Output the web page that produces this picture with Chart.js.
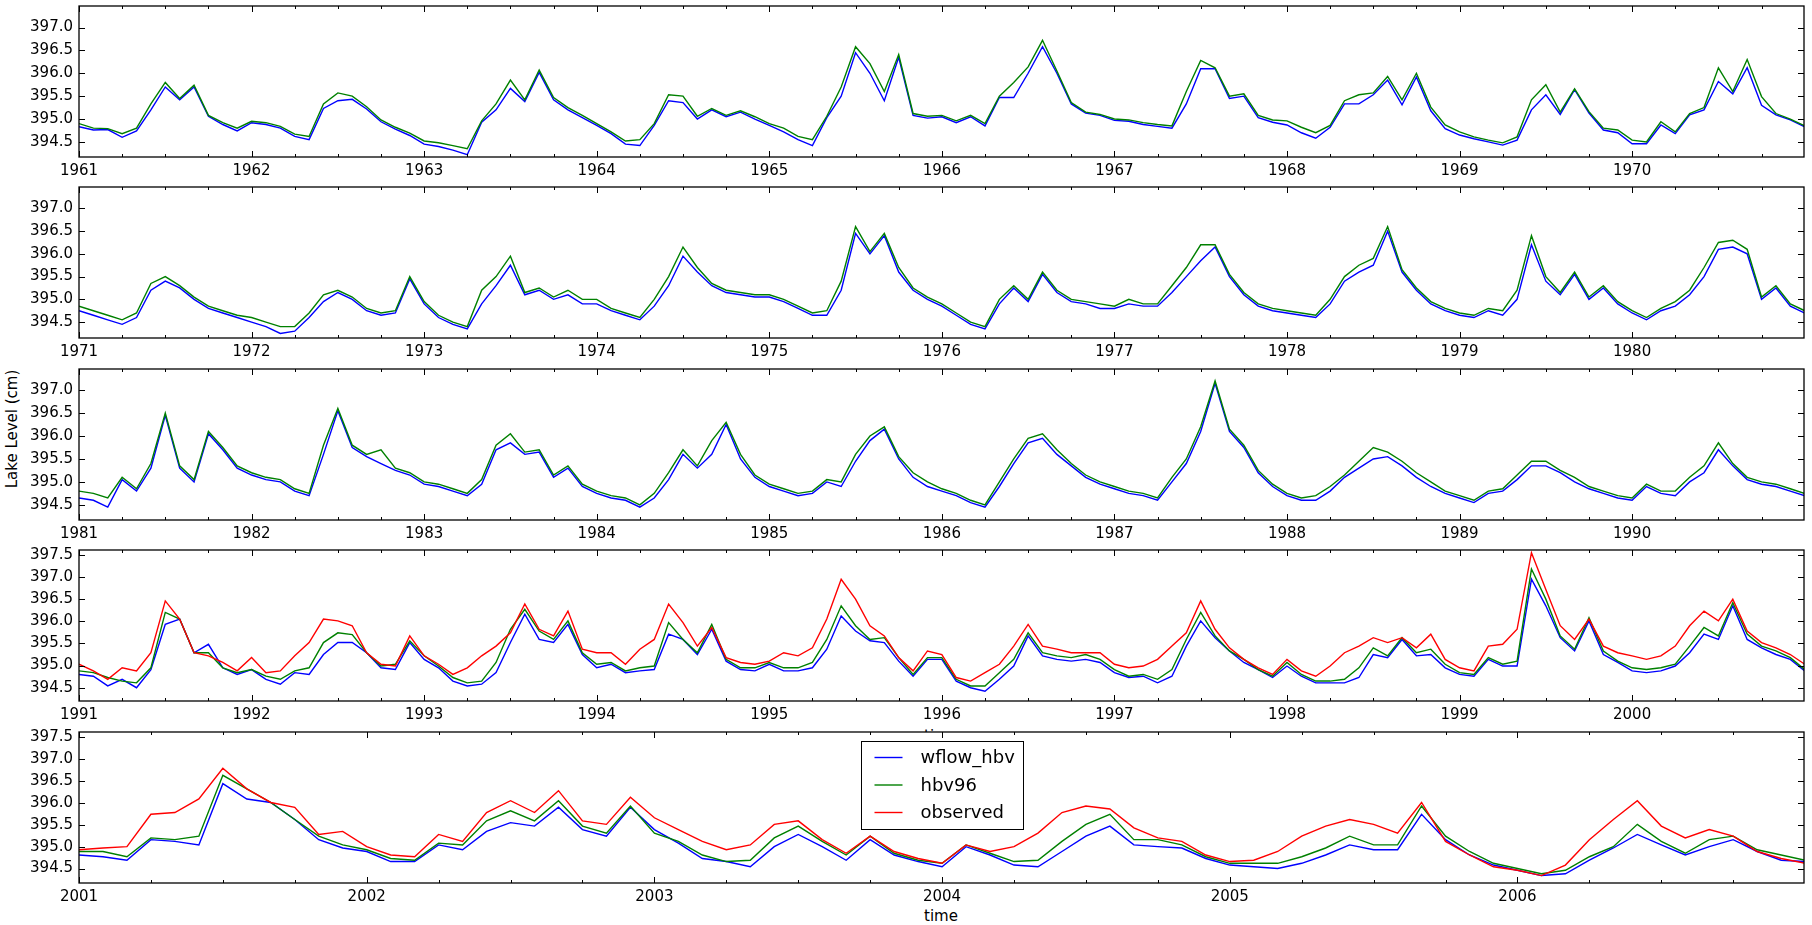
<!DOCTYPE html>
<html>
<head>
<meta charset="utf-8">
<script src="https://cdn.jsdelivr.net/npm/chart.js@4.4.1/dist/chart.umd.min.js"></script>
<style>
  body { margin: 0; background: #fff; }
  #wrap { position: relative; width: 1812px; height: 925px; overflow: hidden; background: #fff; font-family: "DejaVu Sans", sans-serif; }
  canvas { position: absolute; left: 0; }
  .lbl { position: absolute; font-size: 15px; color: #000; white-space: nowrap; }
  #ylabel { left: 12px; top: 429px; transform: translate(-50%, -50%) rotate(-90deg); }
  #xlabel4 { left: 941px; top: 736px; transform: translate(-50%, -50%); }
  #xlabel5 { left: 941px; top: 916px; transform: translate(-50%, -50%); }
</style>
</head>
<body>
<div id="wrap">
  <div class="lbl" id="ylabel">Lake Level (cm)</div>
  <div class="lbl" id="xlabel4">time</div>
  <div class="lbl" id="xlabel5">time</div>
  <canvas id="p0"></canvas>
  <canvas id="p1"></canvas>
  <canvas id="p2"></canvas>
  <canvas id="p3"></canvas>
  <canvas id="p4"></canvas>
</div>
<script>
// series names and colours
const seriesNames = ["wflow_hbv", "hbv96", "observed"];
const seriesColors = ["#0000ff", "#008000", "#ff0000"];

// each panel: first year, number of years, y limits
const panelStart = [1961, 1971, 1981, 1991, 2001];
const panelYears = [10, 10, 10, 10, 6];
const panelYMin = [394.17, 394.15, 394.17, 394.2, 394.17];
const panelYMax = [397.47, 397.47, 397.46, 397.61, 397.62];

// monthly lake levels (cm), one value per month from January of the first year, last value = end of panel
const wflow_61 = [
  394.83, 394.76, 394.77, 394.60, 394.74, 395.20, 395.70, 395.42, 395.70, 395.06, 394.88, 394.74,
  394.92, 394.88, 394.80, 394.62, 394.55, 395.23, 395.40, 395.43, 395.22, 394.94, 394.78, 394.64,
  394.45, 394.40, 394.32, 394.22, 394.93, 395.20, 395.67, 395.38, 396.02, 395.42, 395.20, 395.03,
  394.86, 394.68, 394.45, 394.42, 394.86, 395.40, 395.36, 395.00, 395.20, 395.05, 395.15, 395.00,
  394.86, 394.72, 394.55, 394.42, 395.03, 395.50, 396.45, 396.00, 395.40, 396.35, 395.08, 395.02,
  395.05, 394.92, 395.05, 394.85, 395.47, 395.47, 396.00, 396.58, 396.00, 395.33, 395.13, 395.08,
  394.97, 394.95, 394.88, 394.84, 394.80, 395.33, 396.10, 396.10, 395.45, 395.50, 395.03, 394.93,
  394.87, 394.70, 394.58, 394.82, 395.33, 395.33, 395.53, 395.85, 395.31, 395.92, 395.18, 394.79,
  394.65, 394.57, 394.50, 394.43, 394.54, 395.20, 395.53, 395.10, 395.64, 395.13, 394.76, 394.70,
  394.46, 394.46, 394.87, 394.68, 395.09, 395.20, 395.82, 395.55, 396.12, 395.30, 395.09, 394.98,
  394.83
];
const hbv96_61 = [
  394.90, 394.80, 394.79, 394.68, 394.80, 395.33, 395.80, 395.45, 395.74, 395.08, 394.92, 394.80,
  394.95, 394.92, 394.84, 394.67, 394.62, 395.33, 395.57, 395.50, 395.27, 394.98, 394.82, 394.69,
  394.52, 394.48, 394.42, 394.35, 394.96, 395.33, 395.85, 395.42, 396.07, 395.47, 395.25, 395.08,
  394.90, 394.72, 394.52, 394.55, 394.90, 395.53, 395.50, 395.06, 395.23, 395.08, 395.18, 395.05,
  394.90, 394.80, 394.62, 394.55, 395.06, 395.70, 396.58, 396.21, 395.60, 396.41, 395.12, 395.06,
  395.08, 394.96, 395.08, 394.90, 395.50, 395.80, 396.14, 396.72, 396.05, 395.36, 395.15, 395.10,
  395.00, 394.98, 394.92, 394.88, 394.85, 395.60, 396.28, 396.12, 395.50, 395.55, 395.08, 394.98,
  394.96, 394.82, 394.70, 394.86, 395.40, 395.53, 395.57, 395.93, 395.42, 396.00, 395.26, 394.87,
  394.72, 394.61, 394.54, 394.48, 394.61, 395.42, 395.75, 395.15, 395.66, 395.16, 394.80, 394.76,
  394.54, 394.50, 394.94, 394.72, 395.12, 395.25, 396.12, 395.60, 396.30, 395.49, 395.12, 395.00,
  394.85
];
const wflow_71 = [
  394.75, 394.65, 394.55, 394.45, 394.60, 395.20, 395.40, 395.25, 395.00, 394.80, 394.70, 394.60,
  394.50, 394.40, 394.25, 394.30, 394.60, 394.95, 395.15, 395.00, 394.75, 394.65, 394.70, 395.45,
  394.90, 394.60, 394.45, 394.35, 394.90, 395.30, 395.75, 395.10, 395.20, 395.00, 395.10, 394.90,
  394.90, 394.75, 394.65, 394.55, 394.85, 395.30, 395.95, 395.60, 395.30, 395.15, 395.10, 395.05,
  395.05, 394.95, 394.80, 394.65, 394.65, 395.20, 396.45, 396.00, 396.40, 395.60, 395.20, 395.00,
  394.85, 394.65, 394.45, 394.35, 394.90, 395.25, 394.95, 395.55, 395.15, 394.95, 394.90, 394.80,
  394.80, 394.90, 394.85, 394.85, 395.15, 395.50, 395.85, 396.15, 395.50, 395.10, 394.85, 394.75,
  394.70, 394.65, 394.60, 394.90, 395.40, 395.60, 395.75, 396.50, 395.60, 395.20, 394.90, 394.75,
  394.65, 394.60, 394.75, 394.65, 395.00, 396.20, 395.40, 395.10, 395.55, 395.00, 395.25, 394.90,
  394.70, 394.55, 394.75, 394.85, 395.10, 395.50, 396.10, 396.15, 396.00, 395.00, 395.25, 394.85,
  394.70
];
const hbv96_71 = [
  394.85, 394.75, 394.65, 394.55, 394.70, 395.35, 395.50, 395.30, 395.05, 394.85, 394.75, 394.65,
  394.60, 394.50, 394.40, 394.40, 394.70, 395.10, 395.20, 395.05, 394.80, 394.70, 394.75, 395.50,
  394.95, 394.65, 394.50, 394.40, 395.20, 395.50, 395.95, 395.15, 395.25, 395.05, 395.20, 395.00,
  395.00, 394.80, 394.70, 394.60, 395.00, 395.50, 396.15, 395.70, 395.35, 395.20, 395.15, 395.10,
  395.10, 395.00, 394.85, 394.70, 394.75, 395.40, 396.60, 396.05, 396.45, 395.70, 395.25, 395.05,
  394.90, 394.70, 394.50, 394.40, 395.00, 395.30, 395.00, 395.60, 395.20, 395.00, 394.95, 394.90,
  394.85, 395.00, 394.90, 394.90, 395.30, 395.70, 396.20, 396.20, 395.55, 395.15, 394.90, 394.80,
  394.75, 394.70, 394.65, 395.00, 395.50, 395.75, 395.90, 396.60, 395.65, 395.25, 394.95, 394.80,
  394.70, 394.65, 394.80, 394.75, 395.20, 396.40, 395.50, 395.15, 395.60, 395.05, 395.30, 394.95,
  394.75, 394.60, 394.80, 394.95, 395.20, 395.70, 396.25, 396.30, 396.10, 395.05, 395.30, 394.90,
  394.75
];
const wflow_81 = [
  394.65, 394.60, 394.45, 395.05, 394.80, 395.30, 396.45, 395.30, 395.00, 396.05, 395.70, 395.30,
  395.15, 395.05, 395.00, 394.80, 394.70, 395.60, 396.55, 395.75, 395.55, 395.40, 395.25, 395.15,
  394.95, 394.90, 394.80, 394.70, 394.95, 395.70, 395.85, 395.60, 395.65, 395.10, 395.30, 394.90,
  394.75, 394.65, 394.60, 394.45, 394.65, 395.05, 395.60, 395.30, 395.60, 396.25, 395.50, 395.10,
  394.90, 394.80, 394.70, 394.75, 395.00, 394.90, 395.45, 395.90, 396.15, 395.50, 395.10, 394.90,
  394.80, 394.70, 394.55, 394.45, 394.90, 395.40, 395.85, 395.95, 395.60, 395.35, 395.10, 394.95,
  394.85, 394.75, 394.70, 394.60, 395.00, 395.40, 396.10, 397.15, 396.10, 395.75, 395.20, 394.90,
  394.70, 394.60, 394.60, 394.80, 395.10, 395.30, 395.50, 395.55, 395.35, 395.10, 394.90, 394.75,
  394.65, 394.55, 394.75, 394.80, 395.05, 395.35, 395.35, 395.20, 395.00, 394.85, 394.75, 394.65,
  394.60, 394.90, 394.75, 394.70, 395.00, 395.20, 395.70, 395.35, 395.05, 394.95, 394.90, 394.80,
  394.70
];
const hbv96_81 = [
  394.80, 394.75, 394.65, 395.10, 394.85, 395.40, 396.50, 395.35, 395.05, 396.10, 395.75, 395.35,
  395.20, 395.10, 395.05, 394.85, 394.75, 395.80, 396.60, 395.80, 395.60, 395.70, 395.30, 395.20,
  395.00, 394.95, 394.85, 394.75, 395.05, 395.80, 396.05, 395.65, 395.70, 395.15, 395.35, 394.95,
  394.80, 394.70, 394.65, 394.50, 394.75, 395.20, 395.70, 395.35, 395.90, 396.30, 395.60, 395.15,
  394.95, 394.85, 394.75, 394.80, 395.05, 395.00, 395.60, 396.00, 396.20, 395.55, 395.20, 395.00,
  394.85, 394.75, 394.60, 394.50, 395.00, 395.50, 395.95, 396.05, 395.70, 395.40, 395.15, 395.00,
  394.90, 394.80, 394.75, 394.65, 395.10, 395.50, 396.20, 397.20, 396.15, 395.80, 395.25, 394.95,
  394.75, 394.65, 394.70, 394.90, 395.15, 395.45, 395.75, 395.65, 395.45, 395.20, 395.00, 394.80,
  394.70, 394.60, 394.80, 394.85, 395.15, 395.45, 395.45, 395.25, 395.10, 394.90, 394.80, 394.70,
  394.65, 394.95, 394.80, 394.80, 395.10, 395.35, 395.85, 395.40, 395.10, 395.00, 394.95, 394.85,
  394.75
];
const wflow_91 = [
  394.80, 394.76, 394.54, 394.69, 394.50, 394.91, 395.93, 396.05, 395.29, 395.48, 394.95, 394.80,
  394.91, 394.69, 394.58, 394.84, 394.80, 395.25, 395.52, 395.52, 395.29, 394.95, 394.91, 395.52,
  395.14, 394.95, 394.65, 394.54, 394.58, 394.84, 395.52, 396.16, 395.59, 395.52, 395.93, 395.25,
  394.95, 395.03, 394.84, 394.88, 394.91, 395.71, 395.59, 395.25, 395.82, 395.10, 394.91, 394.88,
  395.03, 394.88, 394.88, 394.95, 395.37, 396.12, 395.78, 395.56, 395.52, 395.10, 394.76, 395.14,
  395.14, 394.65, 394.50, 394.42, 394.69, 394.99, 395.67, 395.22, 395.14, 395.10, 395.14, 395.07,
  394.84, 394.73, 394.76, 394.61, 394.76, 395.44, 396.01, 395.63, 395.33, 395.07, 394.91, 394.73,
  394.99, 394.76, 394.61, 394.61, 394.61, 394.73, 395.25, 395.18, 395.59, 395.22, 395.25, 394.95,
  394.80, 394.76, 395.14, 394.99, 394.99, 396.95, 396.35, 395.63, 395.33, 396.01, 395.25, 395.07,
  394.88, 394.84, 394.88, 394.99, 395.29, 395.71, 395.59, 396.35, 395.59, 395.40, 395.25, 395.14,
  394.88
];
const hbv96_91 = [
  394.88, 394.84, 394.73, 394.65, 394.61, 394.95, 396.20, 396.05, 395.29, 395.29, 394.95, 394.84,
  394.91, 394.76, 394.69, 394.88, 394.95, 395.52, 395.74, 395.70, 395.29, 394.99, 395.03, 395.56,
  395.22, 394.99, 394.73, 394.61, 394.65, 395.07, 395.82, 396.27, 395.78, 395.59, 396.01, 395.29,
  395.03, 395.07, 394.88, 394.95, 394.99, 395.97, 395.59, 395.29, 395.93, 395.14, 394.95, 394.95,
  395.07, 394.95, 394.95, 395.07, 395.59, 396.35, 395.90, 395.59, 395.63, 395.18, 394.80, 395.18,
  395.18, 394.69, 394.54, 394.54, 394.84, 395.14, 395.74, 395.29, 395.22, 395.18, 395.25, 395.14,
  394.91, 394.76, 394.80, 394.69, 394.91, 395.59, 396.20, 395.67, 395.33, 395.14, 394.91, 394.76,
  395.07, 394.80, 394.65, 394.65, 394.69, 394.95, 395.40, 395.22, 395.63, 395.29, 395.37, 395.03,
  394.84, 394.80, 395.18, 395.03, 395.10, 397.18, 396.50, 395.67, 395.37, 396.08, 395.33, 395.10,
  394.95, 394.91, 394.95, 395.03, 395.44, 395.86, 395.67, 396.42, 395.71, 395.44, 395.33, 395.18,
  394.91
];
const observed_91 = [
  395.03, 394.88, 394.69, 394.95, 394.88, 395.29, 396.46, 396.05, 395.29, 395.22, 395.07, 394.88,
  395.18, 394.84, 394.88, 395.22, 395.52, 396.05, 396.01, 395.90, 395.29, 395.03, 394.99, 395.67,
  395.22, 395.03, 394.80, 394.95, 395.22, 395.44, 395.74, 396.39, 395.82, 395.67, 396.23, 395.37,
  395.29, 395.29, 395.03, 395.37, 395.59, 396.39, 395.97, 395.44, 395.86, 395.18, 395.07, 395.03,
  395.10, 395.29, 395.22, 395.40, 396.05, 396.95, 396.50, 395.90, 395.67, 395.18, 394.88, 395.33,
  395.25, 394.73, 394.65, 394.84, 395.03, 395.44, 395.93, 395.44, 395.37, 395.29, 395.29, 395.29,
  395.03, 394.95, 394.99, 395.14, 395.44, 395.74, 396.46, 395.82, 395.40, 395.14, 394.95, 394.80,
  395.14, 394.88, 394.76, 394.99, 395.29, 395.44, 395.63, 395.52, 395.63, 395.40, 395.71, 395.14,
  394.95, 394.88, 395.44, 395.48, 395.82, 397.55, 396.72, 395.90, 395.59, 396.05, 395.44, 395.29,
  395.22, 395.14, 395.22, 395.44, 395.90, 396.23, 396.01, 396.50, 395.78, 395.52, 395.40, 395.25,
  395.03
];
const wflow_01 = [
  394.81, 394.77, 394.69, 395.16, 395.12, 395.04, 396.44, 396.09, 396.01, 395.62, 395.16, 394.97,
  394.89, 394.66, 394.66, 395.04, 394.93, 395.35, 395.55, 395.47, 395.90, 395.39, 395.24, 395.90,
  395.39, 395.08, 394.73, 394.66, 394.54, 395.00, 395.28, 395.00, 394.69, 395.16, 394.81, 394.66,
  394.54, 395.00, 394.81, 394.58, 394.54, 394.89, 395.24, 395.47, 395.04, 395.00, 394.97, 394.73,
  394.58, 394.54, 394.50, 394.62, 394.81, 395.04, 394.93, 394.93, 395.74, 395.16, 394.81, 394.58,
  394.46, 394.34, 394.38, 394.69, 394.97, 395.28, 395.04, 394.81, 395.00, 395.16, 394.89, 394.69,
  394.66
];
const hbv96_01 = [
  394.89, 394.89, 394.77, 395.20, 395.16, 395.24, 396.63, 396.32, 396.01, 395.62, 395.24, 395.04,
  394.93, 394.73, 394.69, 395.08, 395.04, 395.59, 395.82, 395.59, 396.05, 395.47, 395.31, 395.93,
  395.31, 395.12, 394.81, 394.66, 394.69, 395.20, 395.47, 395.12, 394.81, 395.24, 394.85, 394.69,
  394.62, 395.04, 394.85, 394.66, 394.69, 395.12, 395.51, 395.74, 395.16, 395.16, 395.04, 394.77,
  394.62, 394.62, 394.62, 394.77, 394.97, 395.24, 395.04, 395.04, 395.93, 395.24, 394.89, 394.62,
  394.50, 394.38, 394.46, 394.77, 395.00, 395.51, 395.12, 394.85, 395.16, 395.24, 394.93, 394.81,
  394.69
];
const observed_01 = [
  394.93, 394.97, 395.00, 395.74, 395.78, 396.09, 396.79, 396.32, 396.01, 395.90, 395.28, 395.35,
  395.00, 394.81, 394.77, 395.28, 395.12, 395.78, 396.05, 395.78, 396.28, 395.59, 395.51, 396.13,
  395.66, 395.39, 395.12, 394.93, 395.04, 395.51, 395.59, 395.16, 394.85, 395.24, 394.89, 394.73,
  394.62, 395.04, 394.89, 395.00, 395.31, 395.78, 395.93, 395.86, 395.43, 395.20, 395.12, 394.81,
  394.66, 394.69, 394.89, 395.24, 395.47, 395.62, 395.51, 395.31, 396.01, 395.12, 394.81, 394.54,
  394.46, 394.34, 394.58, 395.16, 395.62, 396.05, 395.47, 395.20, 395.39, 395.24, 394.89, 394.73,
  394.62
];

const panelSeries = [
  [wflow_61, hbv96_61],
  [wflow_71, hbv96_71],
  [wflow_81, hbv96_81],
  [wflow_91, hbv96_91, observed_91],
  [wflow_01, hbv96_01, observed_01]
];

// layout of the five axes boxes in the page
const boxTop = [6, 187, 369, 550, 732];
const boxHeight = 151;
const padTop = 6;
const xAxisRoom = 30;
const fontFam = '"DejaVu Sans", sans-serif';

// frame and inward ticks like the matplotlib classic style
const frameTicks = {
  id: "frameTicks",
  afterDatasetsDraw(chart) {
    const { ctx, chartArea: a, scales: { x, y } } = chart;
    ctx.save();
    ctx.strokeStyle = "#000";
    ctx.lineWidth = 1;
    ctx.beginPath();
    for (let q = Math.ceil(x.min * 4); q <= Math.floor(x.max * 4); q++) {
      const px = Math.round(x.getPixelForValue(q / 4)) + 0.5;
      const len = q % 4 === 0 ? 6 : 3;
      ctx.moveTo(px, a.bottom); ctx.lineTo(px, a.bottom - len);
      ctx.moveTo(px, a.top); ctx.lineTo(px, a.top + len);
    }
    y.ticks.forEach(t => {
      const py = Math.round(y.getPixelForValue(t.value)) + 0.5;
      ctx.moveTo(a.left, py); ctx.lineTo(a.left + 6, py);
      ctx.moveTo(a.right, py); ctx.lineTo(a.right - 6, py);
    });
    ctx.stroke();
    ctx.lineWidth = 1.3;
    ctx.strokeRect(a.left, a.top, a.right - a.left, a.bottom - a.top);
    ctx.restore();
  }
};

// white plot background, so the last axes hides the "time" label above it
const whiteArea = {
  id: "whiteArea",
  beforeDraw(chart) {
    const { ctx, chartArea: a } = chart;
    ctx.save();
    ctx.fillStyle = "#fff";
    ctx.fillRect(a.left, a.top, a.right - a.left, a.bottom - a.top);
    ctx.restore();
  }
};

// legend box, upper centre of the last axes
const boxLegend = {
  id: "boxLegend",
  afterDraw(chart) {
    const { ctx, chartArea: a } = chart;
    const w = 162, h = 88;
    const left = Math.round((a.left + a.right) / 2 - w / 2) + 0.5;
    const top = Math.round(a.top + 9) + 0.5;
    ctx.save();
    ctx.fillStyle = "#fff";
    ctx.fillRect(left, top, w, h);
    ctx.strokeStyle = "#000";
    ctx.lineWidth = 1;
    ctx.strokeRect(left, top, w, h);
    ctx.font = "18px " + fontFam;
    ctx.textBaseline = "middle";
    ctx.textAlign = "left";
    chart.data.datasets.slice().sort((p, q) => p.idx - q.idx).forEach((ds, i) => {
      const cy = top + 16 + i * 27.5;
      ctx.strokeStyle = ds.borderColor;
      ctx.lineWidth = 1.4;
      ctx.beginPath();
      ctx.moveTo(left + 13, cy);
      ctx.lineTo(left + 41, cy);
      ctx.stroke();
      ctx.fillStyle = "#000";
      ctx.fillText(ds.label, left + 59, cy + 1);
    });
    ctx.restore();
  }
};

function makePanel(p) {
  const canvas = document.getElementById("p" + p);
  canvas.width = 1812;
  canvas.height = padTop + boxHeight + xAxisRoom;
  canvas.style.top = (boxTop[p] - padTop) + "px";
  const start = panelStart[p];
  const end = start + panelYears[p];

  const datasets = panelSeries[p].map((vals, s) => ({
    label: seriesNames[s],
    idx: s,
    data: vals.map((v, i) => ({ x: start + i / 12, y: v })),
    borderColor: seriesColors[s],
    borderWidth: 1.4,
    pointRadius: 0,
    tension: 0,
    fill: false,
    order: 3 - s
  }));

  const plugins = [frameTicks];
  if (p === 4) plugins.unshift(whiteArea), plugins.push(boxLegend);

  new Chart(canvas, {
    type: "line",
    data: { datasets },
    options: {
      responsive: false,
      animation: false,
      devicePixelRatio: 1,
      layout: { padding: { top: padTop, right: 8, left: 0, bottom: 0 } },
      plugins: { legend: { display: false }, tooltip: { enabled: false } },
      scales: {
        x: {
          type: "linear",
          min: start,
          max: end - 0.004,
          grid: { display: false, drawTicks: false },
          border: { display: false },
          ticks: {
            stepSize: 1,
            includeBounds: false,
            autoSkip: false,
            maxRotation: 0,
            padding: 5,
            color: "#000",
            font: { family: fontFam, size: 15 },
            callback: v => String(Math.round(v))
          },
          afterFit: s => {
            s.height = xAxisRoom;
            s.paddingLeft = 0; s.paddingRight = 0; s.paddingTop = 0; s.paddingBottom = 0;
          }
        },
        y: {
          min: panelYMin[p],
          max: panelYMax[p],
          grid: { display: false, drawTicks: false },
          border: { display: false },
          ticks: {
            stepSize: 0.5,
            includeBounds: false,
            padding: 6,
            color: "#000",
            font: { family: fontFam, size: 15 },
            callback: v => v.toFixed(1)
          },
          afterFit: s => {
            s.width = 79;
            s.paddingLeft = 0; s.paddingRight = 0; s.paddingTop = 0; s.paddingBottom = 0;
          }
        }
      }
    },
    plugins
  });
}

for (let p = 0; p < 5; p++) makePanel(p);
</script>
</body>
</html>
